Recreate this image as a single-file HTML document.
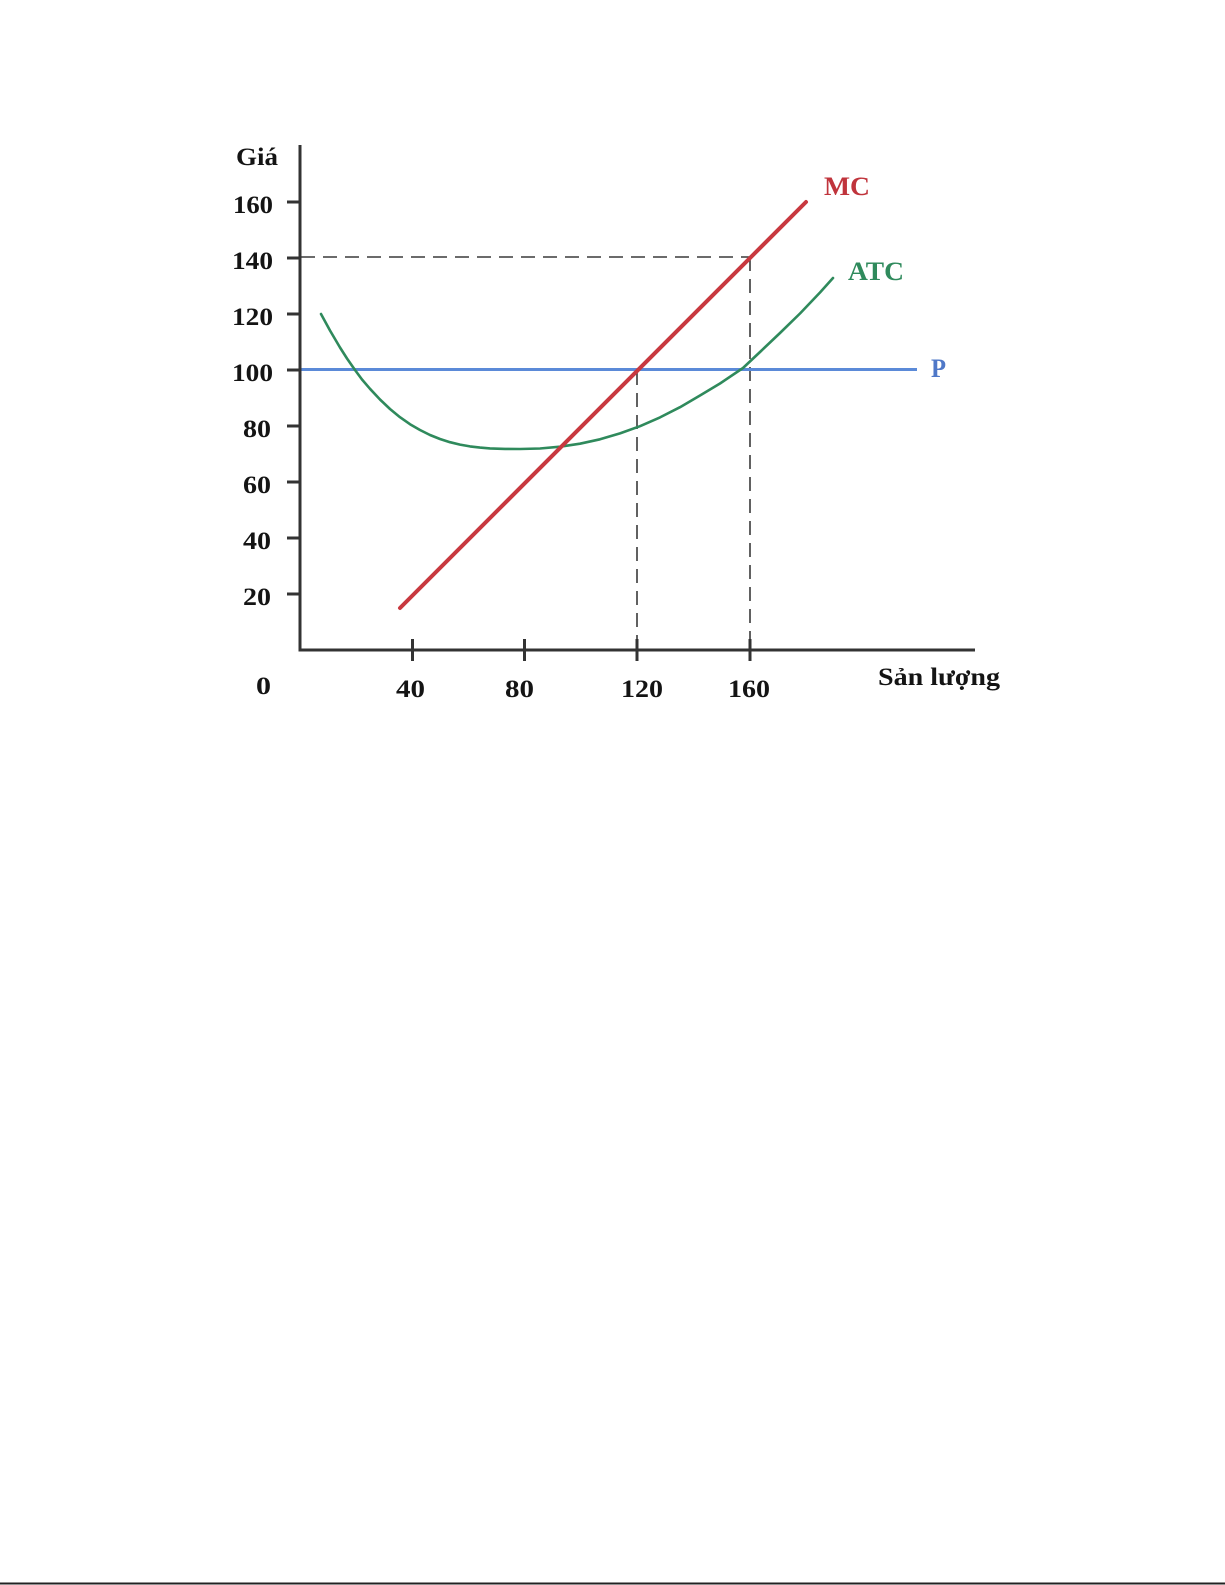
<!DOCTYPE html>
<html>
<head>
<meta charset="utf-8">
<style>
  html, body { margin: 0; padding: 0; background: #ffffff; }
  body { width: 1225px; height: 1585px; overflow: hidden; }
  svg { display: block; }
  text { font-family: "Liberation Serif", "DejaVu Serif", serif; font-weight: bold; }
</style>
</head>
<body>
<svg width="1225" height="1585" viewBox="0 0 1225 1585" xmlns="http://www.w3.org/2000/svg">
  <rect x="0" y="0" width="1225" height="1585" fill="#ffffff"/>

  <!-- dashed guide lines -->
  <g stroke="#3a3a3a" stroke-width="1.6" stroke-dasharray="14 8" fill="none">
    <line x1="301" y1="257" x2="750" y2="257"/>
    <line x1="637" y1="371" x2="637" y2="649"/>
    <line x1="750" y1="257" x2="750" y2="649"/>
  </g>

  <!-- P line -->
  <line x1="300" y1="369.5" x2="917" y2="369.5" stroke="#5b8ad8" stroke-width="3"/>

  <!-- ATC curve -->
  <polyline fill="none" stroke="#2f8a5c" stroke-width="2.6" stroke-linejoin="round" stroke-linecap="round"
    points="321,314 330,330.5 340,347.5 347,358.5 355,370 362,379.5 370,388.8 380,399.5 390,409 400,417.2 410,424.2 420,430 430,435 440,439 450,442.2 460,444.6 470,446.4 480,447.6 490,448.4 505,448.9 520,449 540,448.5 560,446.7 580,443.7 600,439.3 620,433.4 640,426.2 660,417.4 680,407.2 700,395.5 720,383.5 743,368 760,352 780,333 800,313.5 820,292.5 833,278"/>

  <!-- MC line -->
  <line x1="400" y1="608" x2="806" y2="202" stroke="#c8383f" stroke-width="4" stroke-linecap="round"/>

  <!-- axes -->
  <g stroke="#333333" stroke-width="3" fill="none">
    <line x1="300" y1="145" x2="300" y2="651.5"/>
    <line x1="298.5" y1="650" x2="975" y2="650"/>
    <line x1="287" y1="202" x2="300" y2="202"/>
    <line x1="287" y1="258" x2="300" y2="258"/>
    <line x1="287" y1="314" x2="300" y2="314"/>
    <line x1="287" y1="370" x2="300" y2="370"/>
    <line x1="287" y1="426" x2="300" y2="426"/>
    <line x1="287" y1="482" x2="300" y2="482"/>
    <line x1="287" y1="538" x2="300" y2="538"/>
    <line x1="287" y1="594" x2="300" y2="594"/>
    <line x1="412.5" y1="639" x2="412.5" y2="661"/>
    <line x1="524.5" y1="639" x2="524.5" y2="661"/>
    <line x1="637" y1="639" x2="637" y2="661"/>
    <line x1="750" y1="639" x2="750" y2="661"/>
  </g>

  <!-- y-axis labels -->
  <g fill="#141414" font-size="25.5" text-anchor="end">
    <text x="278" y="165" textLength="42" lengthAdjust="spacingAndGlyphs">Giá</text>
    <text x="273" y="213" textLength="40" lengthAdjust="spacingAndGlyphs">160</text>
    <text x="273" y="269" textLength="41" lengthAdjust="spacingAndGlyphs">140</text>
    <text x="273" y="325" textLength="41" lengthAdjust="spacingAndGlyphs">120</text>
    <text x="273" y="381" textLength="41" lengthAdjust="spacingAndGlyphs">100</text>
    <text x="271" y="437" textLength="28" lengthAdjust="spacingAndGlyphs">80</text>
    <text x="271" y="493" textLength="28" lengthAdjust="spacingAndGlyphs">60</text>
    <text x="271" y="549" textLength="28" lengthAdjust="spacingAndGlyphs">40</text>
    <text x="271" y="605" textLength="28" lengthAdjust="spacingAndGlyphs">20</text>
  </g>

  <!-- x-axis labels -->
  <g fill="#141414" font-size="25.5">
    <text x="256" y="694" textLength="15" lengthAdjust="spacingAndGlyphs">0</text>
    <text x="396" y="697" textLength="29" lengthAdjust="spacingAndGlyphs">40</text>
    <text x="505" y="697" textLength="29" lengthAdjust="spacingAndGlyphs">80</text>
    <text x="621" y="697" textLength="42" lengthAdjust="spacingAndGlyphs">120</text>
    <text x="728" y="697" textLength="42" lengthAdjust="spacingAndGlyphs">160</text>
    <text x="878" y="685" textLength="122" lengthAdjust="spacingAndGlyphs">Sản lượng</text>
  </g>

  <!-- series labels -->
  <text x="824" y="195" font-size="26" fill="#c0343c" textLength="46" lengthAdjust="spacingAndGlyphs">MC</text>
  <text x="848" y="280" font-size="26" fill="#2f8a5c" textLength="56" lengthAdjust="spacingAndGlyphs">ATC</text>
  <text x="931" y="377" font-size="26" fill="#4f78c8" textLength="15" lengthAdjust="spacingAndGlyphs">P</text>

  <!-- bottom border line -->
  <line x1="0" y1="1583.5" x2="1225" y2="1583.5" stroke="#222222" stroke-width="2"/>
</svg>
</body>
</html>
